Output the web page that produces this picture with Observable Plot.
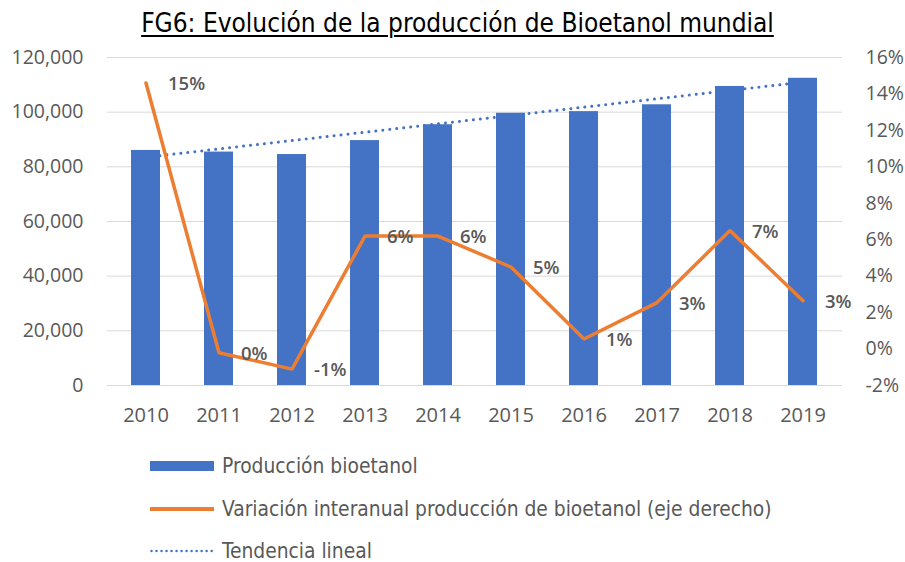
<!DOCTYPE html>
<html>
<head>
<meta charset="utf-8">
<script src="https://cdn.jsdelivr.net/npm/d3@7"></script>
<script src="https://cdn.jsdelivr.net/npm/@observablehq/plot@0.6"></script>
<style>
  html, body { margin: 0; padding: 0; background: #fff; }
  #wrap { position: relative; width: 905px; height: 562px; overflow: hidden; }
  #title { position: absolute; left: 5px; top: 0; width: 905px; height: 46px; line-height: 46px;
    text-align: center; font-family: "DejaVu Sans Condensed", "DejaVu Sans", sans-serif; font-size: 26px;
    color: #000; text-decoration: underline; text-decoration-thickness: 1.5px; text-underline-offset: 3px; }
  #chart { position: absolute; left: 0; top: 44px; }
  .leg { position: absolute; left: 150px; height: 26px; line-height: 26px; display: flex; align-items: center;
    font-family: "DejaVu Sans Condensed", "DejaVu Sans", sans-serif; font-size: 20.8px; color: #595959; white-space: nowrap; }
  .leg svg { margin-right: 8px; }
</style>
</head>
<body>
<div id="wrap">
  <div id="title">FG6: Evolución de la producción de Bioetanol mundial</div>
  <div id="chart"></div>
  <div id="legend"></div>
</div>
<script>
// ---- data ----
const years = ["2010","2011","2012","2013","2014","2015","2016","2017","2018","2019"];
const production = [86000, 85400, 84500, 89600, 95400, 99600, 100200, 102700, 109400, 112400];
const variation = [14.6, -0.2, -1.1, 6.2, 6.2, 4.5, 0.55, 2.55, 6.5, 2.65];
const variationLabels = ["15%","0%","-1%","6%","6%","5%","1%","3%","7%","3%"];
const trendYears = ["2010","2019"];
const trendValues = [83500, 111000];
const leftTicks = [0, 20000, 40000, 60000, 80000, 100000, 120000];
const rightTicks = [-2, 0, 2, 4, 6, 8, 10, 12, 14, 16];
const seriesNames = ["Producción bioetanol", "Variación interanual producción de bioetanol (eje derecho)", "Tendencia lineal"];

// ---- helpers ----
const leftMax = 120000, rMin = -2, rMax = 16;
const toLeft = p => (p - rMin) / (rMax - rMin) * leftMax;
const toRight = v => v / leftMax * (rMax - rMin) + rMin;

const bars = years.map((y, i) => ({year: y, value: production[i]}));
const varData = years.map((y, i) => ({year: y, v: toLeft(variation[i]), label: variationLabels[i]}));
const trend = trendYears.map((y, i) => ({year: y, value: trendValues[i]}));

const blue = "#4472C4", orange = "#ED7D31", grey = "#595959";
const tickFont = "Open Sans, sans-serif";

const chart = Plot.plot({
  width: 905,
  height: 400,
  marginTop: 13,
  marginBottom: 59,
  marginLeft: 107,
  marginRight: 63,
  style: {fontFamily: tickFont, fontSize: "19px", color: grey, background: "transparent"},
  x: {type: "band", domain: years, paddingInner: 0.6, paddingOuter: 0.3, label: null},
  y: {domain: [0, leftMax], label: null},
  marks: [
    Plot.gridY(leftTicks, {stroke: "#d9d9d9", strokeOpacity: 1, strokeWidth: 1}),
    Plot.barY(bars, {x: "year", y: "value", fill: blue}),
    Plot.line(trend, {x: "year", y: "value", stroke: blue, strokeWidth: 3, strokeDasharray: "0.01 7", strokeLinecap: "round"}),
    Plot.line(varData, {x: "year", y: "v", stroke: orange, strokeWidth: 3.5, strokeLinejoin: "miter"}),
    Plot.text(varData, {x: "year", y: "v", text: "label", textAnchor: "start", dx: 22, dy: 1, fill: grey, fontWeight: 600, fontSize: 18.5}),
    Plot.axisX({tickSize: 0, tickPadding: 22, label: null, fontSize: 20}),
    Plot.axisY(leftTicks, {anchor: "left", tickSize: 0, tickPadding: 24, label: null, tickFormat: d3.format(","), fontSize: 19.5}),
    Plot.axisY(rightTicks.map(toLeft), {anchor: "right", tickSize: 0, tickPadding: 23, label: null, textAnchor: "start",
      tickFormat: v => Math.round(toRight(v)) + "%", fontSize: 19.5})
  ]
});
document.getElementById("chart").appendChild(chart);

// ---- legend ----
const legend = document.getElementById("legend");
const centers = [466, 509, 551];
const swatches = [
  `<svg width="64" height="12"><rect x="0" y="1" width="64" height="10" fill="${blue}"/></svg>`,
  `<svg width="64" height="12"><line x1="0" x2="64" y1="6" y2="6" stroke="${orange}" stroke-width="4"/></svg>`,
  `<svg width="64" height="12"><line x1="1.5" x2="64" y1="6" y2="6" stroke="${blue}" stroke-width="2.5" stroke-dasharray="0.01 5" stroke-linecap="round"/></svg>`
];
seriesNames.forEach((name, i) => {
  const d = document.createElement("div");
  d.className = "leg";
  d.style.top = (centers[i] - 13) + "px";
  d.innerHTML = swatches[i] + `<span>${name}</span>`;
  legend.appendChild(d);
});
</script>
</body>
</html>
